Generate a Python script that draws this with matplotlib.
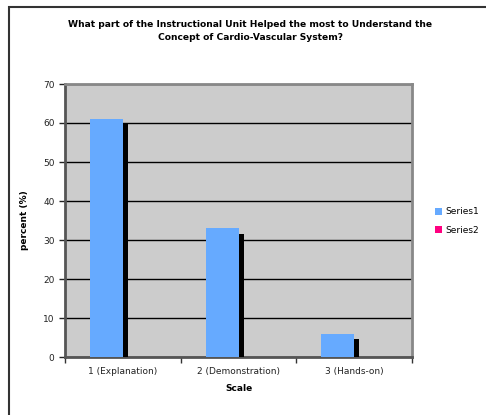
import matplotlib
matplotlib.use('Agg')
import matplotlib.pyplot as plt
from matplotlib.patches import Rectangle, Patch

categories = ['1 (Explanation)', '2 (Demonstration)', '3 (Hands-on)']
series1 = [61, 33.2, 6]
series2 = [60, 31.6, 4.7]

fig = plt.figure(figsize=(4.86, 4.15), dpi=100)
fig.patch.set_facecolor('white')

# chart area border (left/top visible, right/bottom run off the image)
fig.patches.append(Rectangle((9/486, -0.05), 1.2, 1 - 7/415 + 0.05,
                             transform=fig.transFigure, fill=False,
                             edgecolor='#333333', linewidth=1.5))

ax = fig.add_axes([65/486, 1 - 357/415, 347/486, 273/415])
ax.set_facecolor('#cccccc')

x = list(range(len(categories)))
w1 = 0.285
w2 = 0.045
ax.bar([i - w1 / 2 for i in x], series1, width=w1, color='#66aaff', zorder=3)
ax.bar([i + w2 / 2 for i in x], series2, width=w2, color='black', zorder=3)

ax.set_xlim(-0.5, 2.5)
ax.set_ylim(0, 70)
ax.set_yticks(range(0, 71, 10))
ax.yaxis.grid(True, color='black', linewidth=1, zorder=1)
ax.set_xticks(x)
ax.set_xticklabels(categories)
ax.set_xticks([-0.5, 0.5, 1.5, 2.5], minor=True)
ax.tick_params(axis='x', which='major', length=0, pad=7, labelsize=6.5, colors='#222222')
ax.tick_params(axis='x', which='minor', length=4, width=1, color='#333333')
ax.tick_params(axis='y', length=4, width=1, labelsize=6.5, colors='#222222')

for s in ['top', 'right']:
    ax.spines[s].set_color('#888888')
    ax.spines[s].set_linewidth(2)
for s in ['left', 'bottom']:
    ax.spines[s].set_color('#555555')
    ax.spines[s].set_linewidth(2)

ax.set_xlabel('Scale', fontsize=6.5, fontweight='bold', labelpad=6)
ax.set_ylabel('percent (%)', fontsize=6.5, fontweight='bold', labelpad=10)

fig.text(250/486, 1 - 31/415,
         'What part of the Instructional Unit Helped the most to Understand the\nConcept of Cardio-Vascular System?',
         ha='center', va='center', fontsize=6.6, fontweight='bold', linespacing=1.5)

handles = [Patch(facecolor='#66aaff'), Patch(facecolor='#ff0080')]
fig.legend(handles, ['Series1', 'Series2'], loc='center left',
           bbox_to_anchor=(427/486, 1 - 221/415), frameon=False,
           fontsize=6.5, handlelength=0.8, handleheight=0.8,
           handletextpad=0.3, labelspacing=1.0)

fig.savefig('out.png', dpi=100)
